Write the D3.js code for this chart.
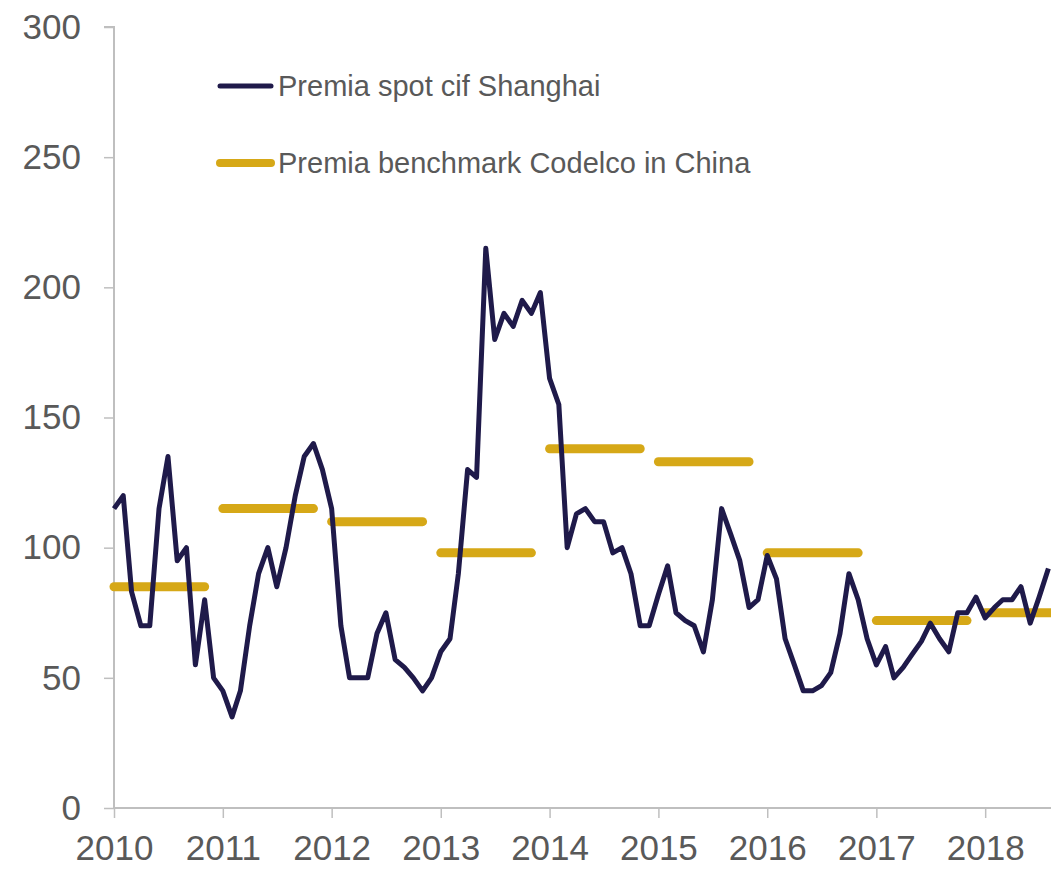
<!DOCTYPE html>
<html>
<head>
<meta charset="utf-8">
<script src="https://cdn.jsdelivr.net/npm/d3@7"></script>
<style>
  body { margin: 0; background: #fff; }
  text { font-family: "Liberation Sans", Arial, sans-serif; fill: #595959; }
</style>
</head>
<body>
<svg id="chart" width="1051" height="869"></svg>
<script>
// monthly spot premium, starting Jan 2010
let spot_values = [115, 120, 83, 70, 70, 115, 135, 95, 100, 55, 80, 50,
    45, 35, 45, 70, 90, 100, 85, 100, 120, 135, 140, 130,
    115, 70, 50, 50, 50, 67, 75, 57, 54, 50, 45, 50,
    60, 65, 90, 130, 127, 215, 180, 190, 185, 195, 190, 198,
    165, 155, 100, 113, 115, 110, 110, 98, 100, 90, 70, 70,
    82, 93, 75, 72, 70, 60, 80, 115, 105, 95, 77, 80,
    97, 88, 65, 55, 45, 45, 47, 52, 67, 90, 80, 65,
    55, 62, 50, 54, 59, 64, 71, 65, 60, 75, 75, 81,
    73, 77, 80, 80, 85, 71, 81, 92];
let bench_years = [2010, 2011, 2012, 2013, 2014, 2015, 2016, 2017, 2018];
let bench_values = [85, 115, 110, 98, 138, 133, 98, 72, 75];
let y_ticks = [0, 50, 100, 150, 200, 250, 300];
let legend_labels = ["Premia spot cif Shanghai", "Premia benchmark Codelco in China"];

let navy = "#1f1a4a";
let gold = "#d6a817";

let svg = d3.select("#chart");

let x = d3.scaleTime()
    .domain([new Date(2010, 0, 1), new Date(2019, 0, 1)])
    .range([114, 1094]);
let y = d3.scaleLinear()
    .domain([0, 300])
    .range([808, 27]);

let spot = spot_values.map((v, i) => ({date: new Date(2010, i, 1), value: v}));

// y axis
let yAxis = svg.append("g")
    .attr("transform", "translate(114,0)")
    .call(d3.axisLeft(y).tickValues(y_ticks).tickSize(10).tickPadding(23));
yAxis.select(".domain").attr("stroke", "#bfbfbf").attr("stroke-width", 2)
    .attr("d", "M-10," + y(300) + "H0V" + y(0));
yAxis.selectAll(".tick line").attr("stroke", "#bfbfbf").attr("stroke-width", 1.5);
yAxis.selectAll(".tick text")
    .style("font-size", "35px")
    .attr("fill", "#595959");

// x axis
let xAxis = svg.append("g")
    .attr("transform", "translate(0,808)")
    .call(d3.axisBottom(x)
        .tickValues(bench_years.map(d => new Date(d, 0, 1)))
        .tickFormat(d3.timeFormat("%Y"))
        .tickSize(10).tickPadding(17));
xAxis.select(".domain").attr("stroke", "#bfbfbf").attr("stroke-width", 2)
    .attr("d", "M114,0H1051");
xAxis.selectAll(".tick line").attr("stroke", "#bfbfbf").attr("stroke-width", 1.5);
xAxis.selectAll(".tick text")
    .style("font-size", "35px")
    .attr("fill", "#595959");

// benchmark segments, Jan to Nov of each year
svg.append("g").selectAll("line")
    .data(bench_years.map((yr, i) => ({year: yr, value: bench_values[i]})))
    .enter().append("line")
    .attr("x1", d => x(new Date(d.year, 0, 1)))
    .attr("x2", d => x(new Date(d.year, 10, 1)))
    .attr("y1", d => y(d.value))
    .attr("y2", d => y(d.value))
    .attr("stroke", gold)
    .attr("stroke-width", 9)
    .attr("stroke-linecap", "round");

// spot line
let line = d3.line()
    .x(d => x(d.date))
    .y(d => y(d.value));
svg.append("path")
    .datum(spot)
    .attr("d", line)
    .attr("fill", "none")
    .attr("stroke", navy)
    .attr("stroke-width", 5)
    .attr("stroke-linejoin", "round");

// legend
let legend = svg.append("g");
let leg = legend.selectAll("g")
    .data(legend_labels)
    .enter().append("g")
    .attr("transform", (d, i) => "translate(0," + (86 + i * 77) + ")");
leg.append("line")
    .attr("x1", 220).attr("x2", 271)
    .attr("stroke", (d, i) => i === 0 ? navy : gold)
    .attr("stroke-width", (d, i) => i === 0 ? 5 : 8)
    .attr("stroke-linecap", "round");
leg.append("text")
    .attr("x", 278)
    .attr("y", 10)
    .style("font-size", "29px")
    .text(d => d);
</script>
</body>
</html>
